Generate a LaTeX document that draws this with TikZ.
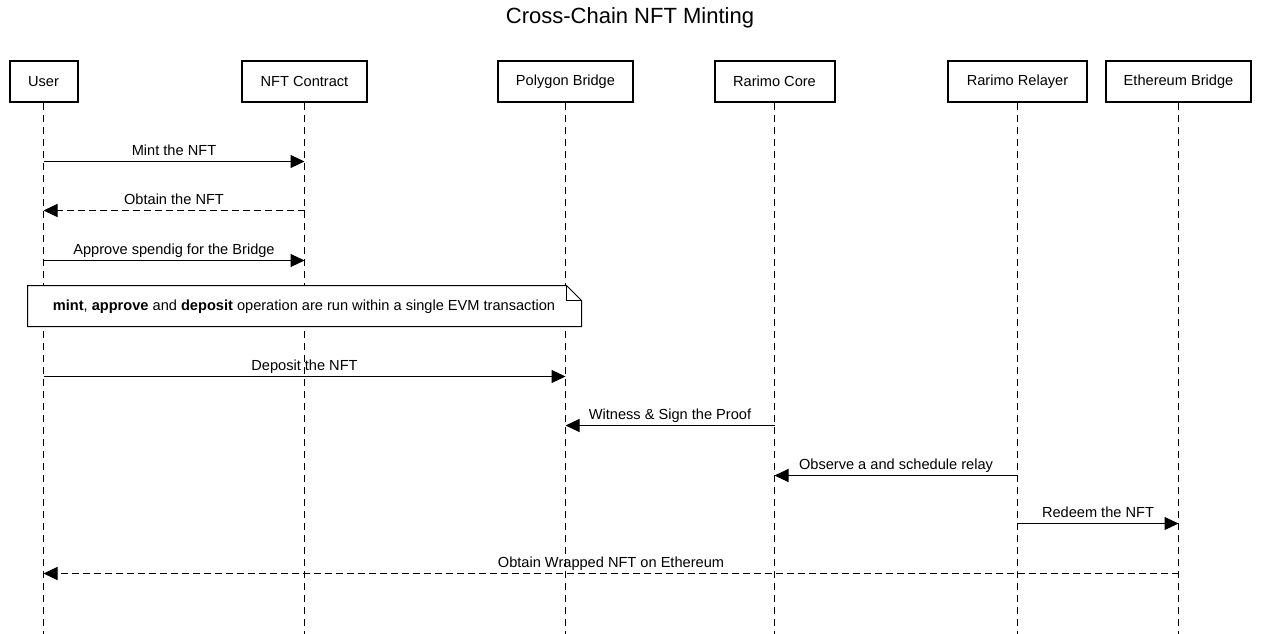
\documentclass[tikz,border=0pt]{standalone}
\usepackage{fontspec}
\setmainfont{Liberation Sans}
\usetikzlibrary{arrows.meta,positioning}
\begin{document}
\begin{tikzpicture}[x=1pt,y=-1pt,
      font=\fontsize{14.6}{17}\selectfont,
      actor/.style={draw,line width=2pt,minimum height=41pt,inner sep=0pt,fill=white},
      lifeline/.style={line width=1pt,dash pattern=on 7pt off 5pt},
      msg/.style={line width=1pt,-{Triangle[length=14pt,width=13pt]}},
      reply/.style={msg,dash pattern=on 7pt off 4pt},
      lbl/.style={anchor=base,yshift=6pt,inner sep=0pt}]
    \useasboundingbox (0,0) rectangle (1261,634);
    \node[font=\fontsize{22}{26}\selectfont] (title) at (630,18) {Cross-Chain NFT Minting};
    % participants
    \node[actor,minimum width=68pt] (user) at (43.5,81.5) {User};
    \node[actor,minimum width=125pt] (nft) at (304.5,81.5) {NFT Contract};
    \node[actor,minimum width=135pt] (polygon) at (565.5,81.5) {Polygon Bridge};
    \node[actor,minimum width=120pt] (core) at (774.5,81.5) {Rarimo Core};
    \node[actor,minimum width=139pt] (relayer) at (1017.5,81.5) {Rarimo Relayer};
    \node[actor,minimum width=145pt] (eth) at (1178.5,81.5) {Ethereum Bridge};
    % lifelines
    \foreach \p in {user,nft,polygon,core,relayer,eth}
      \draw[lifeline] (\p.south) -- (\p |- 0,640);
    % message points
    \coordinate (m1a) at (user |- 0,161.5);    \coordinate (m1b) at (nft |- 0,161.5);
    \coordinate (m2a) at (nft |- 0,210.5);     \coordinate (m2b) at (user |- 0,210.5);
    \coordinate (m3a) at (user |- 0,260.5);    \coordinate (m3b) at (nft |- 0,260.5);
    \coordinate (m5a) at (user |- 0,376.5);    \coordinate (m5b) at (polygon |- 0,376.5);
    \coordinate (m6a) at (core |- 0,425.5);    \coordinate (m6b) at (polygon |- 0,425.5);
    \coordinate (m7a) at (relayer |- 0,475.5); \coordinate (m7b) at (core |- 0,475.5);
    \coordinate (m8a) at (relayer |- 0,523.5); \coordinate (m8b) at (eth |- 0,523.5);
    \coordinate (m9a) at (eth |- 0,573.5);     \coordinate (m9b) at (user |- 0,573.5);
    \draw[msg] (m1a) -- node[lbl] {Mint the NFT} (m1b);
    \draw[reply] (m2a) -- node[lbl] {Obtain the NFT} (m2b);
    \draw[msg] (m3a) -- node[lbl] {Approve spendig for the Bridge} (m3b);
    % note
    \draw[line width=1pt,fill=white] (27.5,285.5) -- (566.5,285.5) -- (581.5,300.5) -- (581.5,326.5) -- (27.5,326.5) -- cycle;
    \draw[line width=1pt] (566.5,285.5) -- (566.5,300.5) -- (581.5,300.5);
    \node (note) at (304,307) {\textbf{mint}, \textbf{approve} and \textbf{deposit} operation are run within a single EVM transaction};
    \draw[msg] (m5a) -- node[lbl] {Deposit the NFT} (m5b);
    \draw[msg] (m6a) -- node[lbl] {Witness \& Sign the Proof} (m6b);
    \draw[msg] (m7a) -- node[lbl] {Observe a and schedule relay} (m7b);
    \draw[msg] (m8a) -- node[lbl] {Redeem the NFT} (m8b);
    \draw[reply] (m9a) -- node[lbl] {Obtain Wrapped NFT on Ethereum} (m9b);
  \end{tikzpicture}
\end{document}
